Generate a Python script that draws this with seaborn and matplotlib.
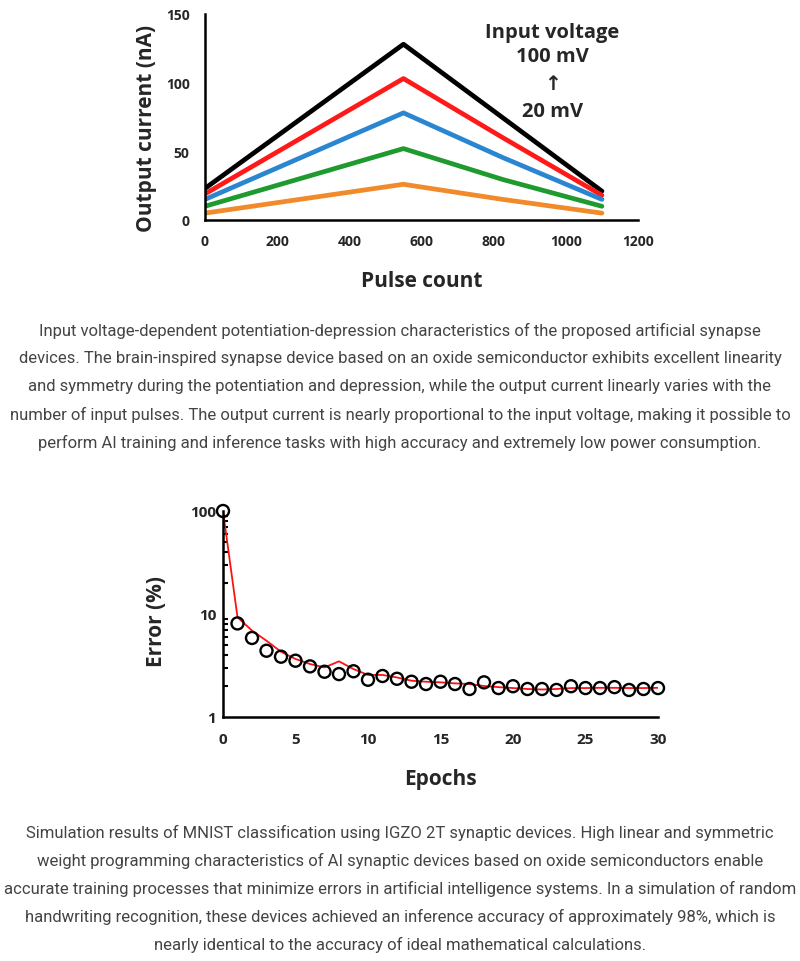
import numpy as np
import pandas as pd
import matplotlib
matplotlib.use("Agg")
import matplotlib.pyplot as plt
import seaborn as sns
from matplotlib.ticker import LogLocator, FixedLocator

sns.set_theme(style="white")
plt.rcParams['font.family'] = ['Open Sans', 'DejaVu Sans']

# ---- Data: top chart (potentiation / depression) ----
pulse = [0, 275, 550, 825, 1100]
cur_100mV = [23, 75.5, 128, 74.5, 21]
cur_80mV = [19, 61, 103, 60, 18]
cur_60mV = [15, 46.5, 78, 45.5, 15]
cur_40mV = [10, 31, 52, 29.5, 10]
cur_20mV = [5, 15.5, 26, 15, 5]
voltages = ["100 mV", "80 mV", "60 mV", "40 mV", "20 mV"]
line_colors = ["#000000", "#ff1a1a", "#2a86d0", "#1e9a2e", "#f08a2a"]

# ---- Data: bottom chart (MNIST error) ----
epochs = list(range(31))
err_points = [100, 8.1, 5.85, 4.4, 3.85, 3.52, 3.1, 2.75, 2.61, 2.78, 2.30,
              2.50, 2.35, 2.20, 2.09, 2.20, 2.09, 1.87, 2.17, 1.91, 1.99,
              1.87, 1.87, 1.83, 1.99, 1.91, 1.91, 1.95, 1.83, 1.87, 1.91]
err_line = [100, 9.3, 6.9, 5.5, 4.3, 3.66, 3.27, 3.03, 3.47, 2.92, 2.56,
            2.56, 2.42, 2.25, 2.20, 2.17, 2.12, 2.09, 2.00, 1.95, 1.91,
            1.87, 1.85, 1.87, 1.91, 1.91, 1.92, 1.92, 1.91, 1.91, 1.92]

caption1 = [
    "Input voltage-dependent potentiation-depression characteristics of the proposed artificial synapse",
    "devices. The brain-inspired synapse device based on an oxide semiconductor exhibits excellent linearity",
    "and symmetry during the potentiation and depression, while the output current linearly varies with the",
    "number of input pulses. The output current is nearly proportional to the input voltage, making it possible to",
    "perform AI training and inference tasks with high accuracy and extremely low power consumption.",
]
caption2 = [
    "Simulation results of MNIST classification using IGZO 2T synaptic devices. High linear and symmetric",
    "weight programming characteristics of AI synaptic devices based on oxide semiconductors enable",
    "accurate training processes that minimize errors in artificial intelligence systems. In a simulation of random",
    "handwriting recognition, these devices achieved an inference accuracy of approximately 98%, which is",
    "nearly identical to the accuracy of ideal mathematical calculations.",
]

W, H = 800, 962
fig = plt.figure(figsize=(W / 100, H / 100), dpi=100)
fig.patch.set_facecolor("white")

def ax_rect(l, t, r, b):
    return [l / W, 1 - b / H, (r - l) / W, (b - t) / H]

# ---------- Top chart ----------
ax1 = fig.add_axes(ax_rect(205, 15, 638, 221))
series = [cur_100mV, cur_80mV, cur_60mV, cur_40mV, cur_20mV]
df1 = pd.DataFrame({
    "Pulse": np.tile(pulse, len(voltages)),
    "Current": np.concatenate(series),
    "V": np.repeat(voltages, len(pulse)),
})
sns.lineplot(data=df1, x="Pulse", y="Current", hue="V", palette=line_colors,
             hue_order=voltages, linewidth=3.4, legend=False, ax=ax1)
ax1.set_xlim(0, 1200)
ax1.set_ylim(0, 150)
ax1.set_xticks([0, 200, 400, 600, 800, 1000, 1200])
ax1.set_yticks([0, 50, 100, 150])
ax1.set_xlabel("Pulse count", fontsize=15, fontweight="bold", labelpad=16)
ax1.set_ylabel("Output current (nA)", fontsize=15, fontweight="bold")
ax1.yaxis.set_label_coords(-0.11, 0.45)
anno_kw = dict(transform=ax1.transAxes, ha="center", va="center",
               fontsize=14.5, fontweight="bold")
ax1.text(0.802, 0.915, "Input voltage", **anno_kw)
ax1.text(0.802, 0.795, "100 mV", **anno_kw)
ax1.text(0.802, 0.66, "\u2191", **anno_kw)
ax1.text(0.802, 0.53, "20 mV", **anno_kw)

# ---------- Bottom chart ----------
ax2 = fig.add_axes(ax_rect(223, 512, 658, 718))
df_line = pd.DataFrame({"Epoch": epochs, "Error": err_line})
df_pts = pd.DataFrame({"Epoch": epochs, "Error": err_points})
sns.lineplot(data=df_line, x="Epoch", y="Error", color="#ff1010", linewidth=1.3,
             ax=ax2, zorder=2)
sns.scatterplot(data=df_pts, x="Epoch", y="Error", marker="o", s=75,
                facecolor="none", edgecolor="black", linewidth=1.7, ax=ax2,
                zorder=3, clip_on=False)
ax2.set_yscale("log")
ax2.set_xlim(0, 30)
ax2.set_ylim(1, 100)
ax2.set_xticks([0, 5, 10, 15, 20, 25, 30])
ax2.yaxis.set_major_locator(FixedLocator([1, 10, 100]))
ax2.yaxis.set_minor_locator(LogLocator(base=10, subs=np.arange(2, 10)))
ax2.set_yticklabels(["1", "10", "100"])
ax2.set_xlabel("Epochs", fontsize=15, fontweight="bold", labelpad=16)
ax2.set_ylabel("Error (%)", fontsize=15, fontweight="bold")
ax2.yaxis.set_label_coords(-0.128, 0.47)

for ax, xpad, ypad, lsize in [(ax1, 10, 11, 10), (ax2, 11, 5, 11)]:
    for s in ["top", "right"]:
        ax.spines[s].set_visible(False)
    for s in ["left", "bottom"]:
        ax.spines[s].set_visible(True)
        ax.spines[s].set_color("black")
        ax.spines[s].set_linewidth(1.8)
    ax.set_facecolor("white")
    ax.grid(False)
    ax.tick_params(axis="both", which="major", direction="in", length=5,
                   width=1.8, color="black", labelsize=lsize)
    ax.tick_params(axis="x", pad=xpad)
    ax.tick_params(axis="y", pad=ypad)
    for lab in ax.get_xticklabels() + ax.get_yticklabels():
        lab.set_fontweight("bold")
ax2.tick_params(axis="y", which="minor", direction="in", length=3.5, width=1.5,
                color="black", left=True)

# ---------- Captions ----------
cap_kw = dict(ha="center", va="center", fontsize=12, color="#444444",
              family=["Roboto", "DejaVu Sans"])
for i, line in enumerate(caption1):
    fig.text(0.5, 1 - (331 + 28 * i) / H, line, **cap_kw)
for i, line in enumerate(caption2):
    fig.text(0.5, 1 - (833 + 28 * i) / H, line, **cap_kw)

fig.savefig("out.png", dpi=100, facecolor="white")
